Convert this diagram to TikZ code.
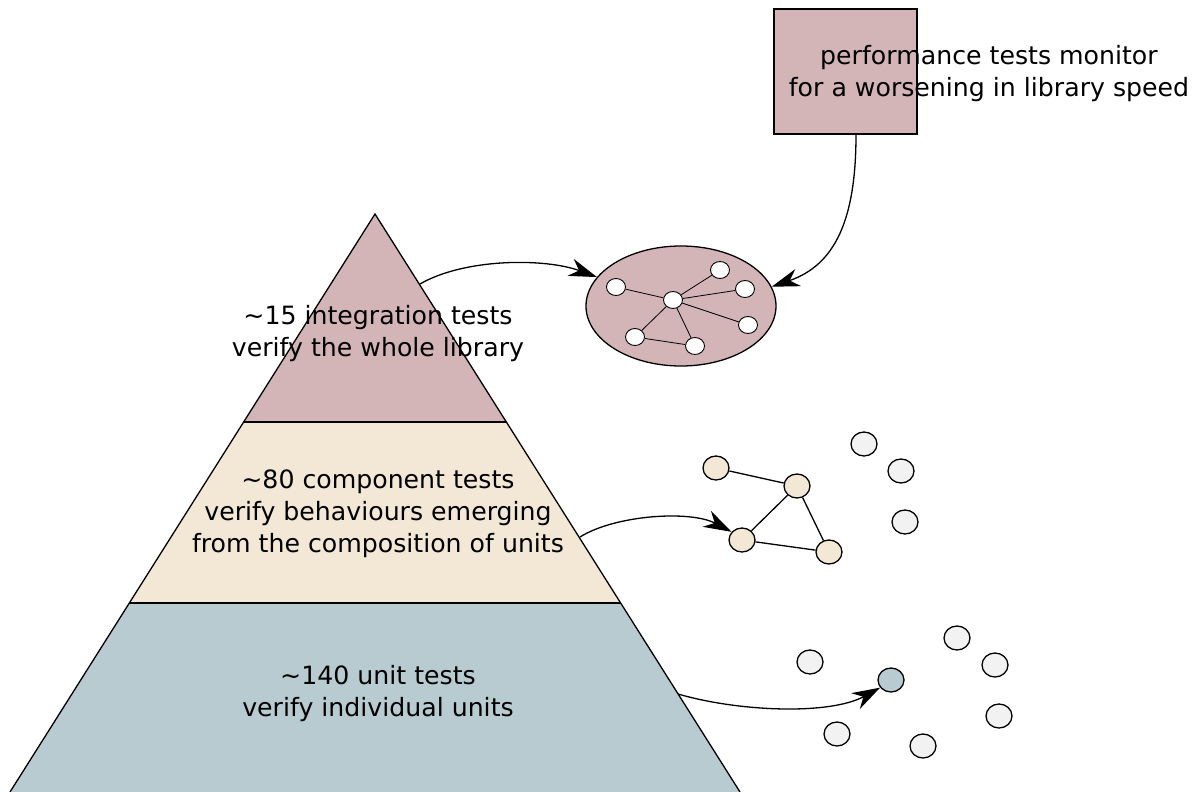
\documentclass[tikz,border=0pt]{standalone}
\usepackage{fontspec}
\setmainfont{DejaVu Sans}
\usetikzlibrary{arrows.meta,shapes.geometric}
\definecolor{rose}{HTML}{D3B5B8}
\definecolor{cream}{HTML}{F2E8D5}
\definecolor{slate}{HTML}{B8CBD1}
\definecolor{pale}{HTML}{F2F2F2}
\begin{document}
\begin{tikzpicture}[x=1pt,y=-1pt,
  label/.style={align=center,font=\fontsize{25.2}{32}\selectfont,inner sep=0pt},
  band/.style={draw=black,line width=1.3pt},
  dot/.style={ellipse,draw=black,line width=1.3pt,minimum width=26pt,minimum height=24pt,inner sep=0pt},
  tiny/.style={ellipse,draw=black,line width=0.9pt,fill=white,minimum width=19pt,minimum height=17pt,inner sep=0pt},
  link/.style={line width=1.3pt},
  thin/.style={line width=0.8pt},
  conn/.style={line width=1.3pt,-{Stealth[length=28pt,width=18pt,inset=9pt]}}]
\useasboundingbox (0,0) rectangle (1197,792);
% pyramid
\fill[slate] (129.4,603) -- (620.6,603) -- (740,792) -- (10,792) -- cycle;
\fill[cream] (244,422) -- (506,422) -- (620.6,603) -- (129.4,603) -- cycle;
\fill[rose] (375,214) -- (506,422) -- (244,422) -- cycle;
\draw[band] (10,792) -- (375,214) -- (740,792);
\draw[band] (244,422) -- (506,422);
\draw[band] (129.4,603) -- (620.6,603);
\node[label] (integ) at (378,334) {\textasciitilde15 integration tests\\verify the whole library};
\node[label] (comp) at (378,514) {\textasciitilde80 component tests\\verify behaviours emerging\\from the composition of units};
\node[label] (unit) at (378,694) {\textasciitilde140 unit tests\\verify individual units};
% performance box
\node[draw=black,line width=1.3pt,fill=rose,minimum width=143pt,minimum height=125pt,inner sep=0pt] (perf) at (845.5,71.5) {};
\node[label] (perftext) at (989,74) {performance tests monitor\\for a worsening in library speed};
% library ellipse
\node[ellipse,draw=black,line width=1.3pt,fill=rose,minimum width=190pt,minimum height=120pt] (lib) at (681,306) {};
\node[tiny] (h) at (673,300) {};
\node[tiny] (l1) at (616,287) {};
\node[tiny] (l2) at (720,270) {};
\node[tiny] (l3) at (745,289) {};
\node[tiny] (l4) at (748,325) {};
\node[tiny] (l5) at (635,337) {};
\node[tiny] (l6) at (695,346) {};
\draw[thin] (h) -- (l1) (h) -- (l2) (h) -- (l3) (h) -- (l4) (h) -- (l5) (h) -- (l6) (l5) -- (l6);
% component network
\node[dot,fill=cream] (ca) at (716,468) {};
\node[dot,fill=cream] (cb) at (797,486) {};
\node[dot,fill=cream] (cc) at (742,540) {};
\node[dot,fill=cream] (cd) at (829,552) {};
\draw[link] (ca) -- (cb) (cb) -- (cc) (cb) -- (cd) (cc) -- (cd);
\node[dot,fill=pale] (g1) at (864,444) {};
\node[dot,fill=pale] (g2) at (901,471) {};
\node[dot,fill=pale] (g3) at (905,522) {};
% unit circles
\node[dot,fill=pale] (u1) at (810,662) {};
\node[dot,fill=pale] (u2) at (957,638) {};
\node[dot,fill=pale] (u3) at (995,665) {};
\node[dot,fill=pale] (u4) at (999,716) {};
\node[dot,fill=pale] (u5) at (837,734) {};
\node[dot,fill=pale] (u6) at (923,746) {};
\node[dot,fill=slate] (ub) at (891,680) {};
% connectors
\coordinate (s1) at (420,284);
\coordinate (s2) at (580,537);
\coordinate (s3) at (678,694);
\draw[conn] (s1) .. controls (465,258) and (545,258) .. (lib.161);
\draw[conn] (perf.south -| 856,134) .. controls (856,220) and (835,265) .. (lib.12);
\draw[conn] (s2) .. controls (615,515) and (690,510) .. (cc.142);
\draw[conn] (s3) .. controls (740,712) and (830,715) .. (ub.215);
\end{tikzpicture}
\end{document}
